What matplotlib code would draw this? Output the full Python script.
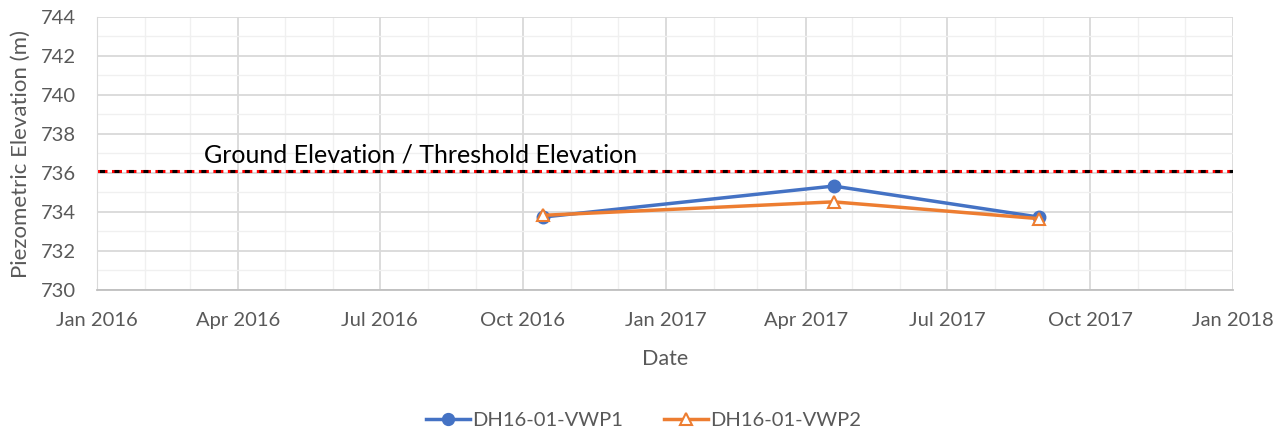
import matplotlib
matplotlib.use("Agg")
import matplotlib.pyplot as plt
import matplotlib.dates as mdates
from datetime import datetime

plt.rcParams['font.family'] = ['Lato', 'DejaVu Sans']

# readings
dates = [datetime(2016, 10, 14), datetime(2017, 4, 19), datetime(2017, 8, 29)]
vwp1 = [733.74, 735.33, 733.74]
vwp2 = [733.83, 734.52, 733.66]
threshold = 736.1
series_names = ["DH16-01-VWP1", "DH16-01-VWP2"]

grey = "#595959"

fig = plt.figure(figsize=(12.87, 4.37), dpi=100)
ax = fig.add_axes([97 / 1287, 1 - 290 / 437, (1233 - 97) / 1287, (290 - 17) / 437])

ax.set_xlim(datetime(2016, 1, 1), datetime(2018, 1, 1))
ax.set_ylim(730, 744)

ax.xaxis.set_major_locator(mdates.MonthLocator(bymonth=[1, 4, 7, 10]))
ax.xaxis.set_major_formatter(mdates.DateFormatter("%b %Y"))
ax.xaxis.set_minor_locator(mdates.MonthLocator())
ax.set_yticks(range(730, 745, 2))
ax.set_yticks(range(730, 745, 1), minor=True)

ax.grid(which="major", color="#d9d9d9", lw=1.3)
ax.grid(which="minor", color="#f0f0f0", lw=1.0)
ax.set_axisbelow(True)

for s in ["top", "right"]:
    ax.spines[s].set_visible(False)
ax.spines["left"].set_color("#d9d9d9")
ax.spines["bottom"].set_color("#bfbfbf")
ax.spines["bottom"].set_linewidth(1.3)
ax.tick_params(which="both", length=0, colors=grey, labelsize=14.5)
ax.tick_params(axis="x", pad=16)
ax.tick_params(axis="y", pad=15)

# threshold line: red dashes with a black core
ax.axhline(threshold, color="red", lw=2.2, ls=(0, (3.27, 1.47)))
ax.axhline(threshold, color="black", lw=2.2, ls=(3.92, (1.63, 3.11)))
ax.text(datetime(2016, 3, 10), threshold + 0.22, "Ground Elevation / Threshold Elevation",
        fontsize=18, color="black", va="bottom")

ax.plot(dates, vwp1, color="#4472c4", lw=2.5, marker="o", ms=9, label=series_names[0])
ax.plot(dates, vwp2, color="#ed7d31", lw=2.5, marker="^", ms=9, mfc="white",
        mec="#ed7d31", mew=1.5, label=series_names[1])

ax.set_xlabel("Date", fontsize=15.5, color=grey, labelpad=14)
ax.set_ylabel("Piezometric Elevation (m)", fontsize=16, color=grey)
ax.yaxis.set_label_coords(-0.058, 0.5)

fig.legend(loc="center", bbox_to_anchor=(0.5, 1 - 420 / 437), ncol=2, frameon=False,
           fontsize=14.5, labelcolor=grey, handlelength=2.2, handletextpad=0.1,
           columnspacing=2.0, markerscale=0.95)

fig.savefig("out.png", dpi=100)
